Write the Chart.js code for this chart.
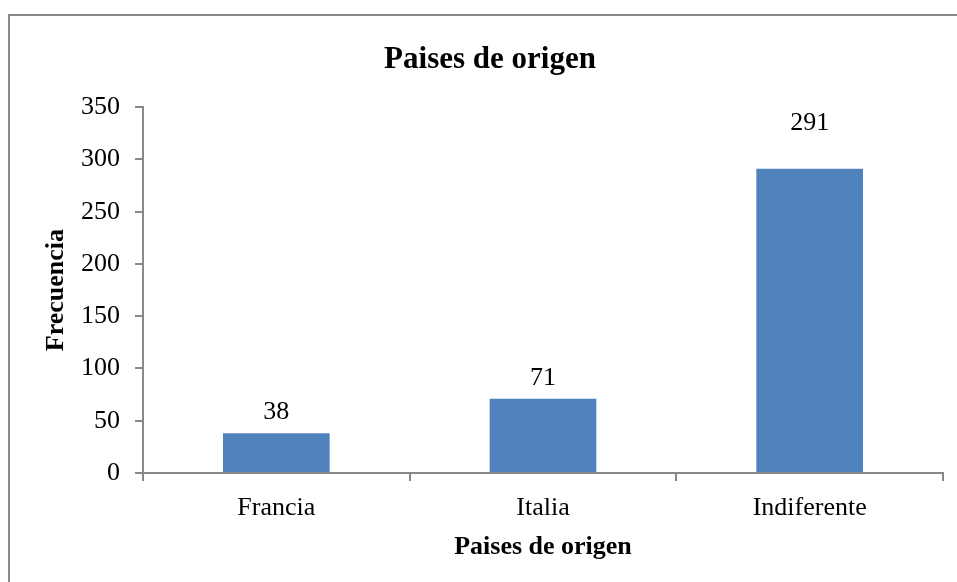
<!DOCTYPE html>
<html>
<head>
<meta charset="utf-8">
<script src="https://cdn.jsdelivr.net/npm/chart.js@4/dist/chart.umd.min.js"></script>
<style>
    body { margin: 0; background: #ffffff; }
    .marco {
        position: absolute;
        left: 8px; top: 14px; right: 0; bottom: 0;
        border-top: 2px solid #898989;
        border-left: 2px solid #898989;
    }
    #grafico { position: absolute; left: 0; top: 0; }
</style>
</head>
<body>
<div class="marco"></div>
<canvas id="grafico" width="957" height="582"></canvas>
<script>
// Datos del grafico
const paises = ["Francia", "Italia", "Indiferente"];
const frecuencias = [38, 71, 291];
const ticksY = [0, 50, 100, 150, 200, 250, 300, 350];

const fuente = "'Liberation Serif', 'Times New Roman', serif";
const gris = "#898989";

// Etiquetas encima de cada barra (la de 291 esta movida mas arriba en el original)
const separacionEtiqueta = [14, 14, 39];

const etiquetasBarras = {
    id: "etiquetasBarras",
    afterDatasetsDraw(chart) {
        const ctx = chart.ctx;
        const meta = chart.getDatasetMeta(0);
        ctx.save();
        ctx.font = "26px " + fuente;
        ctx.fillStyle = "#000000";
        ctx.textAlign = "center";
        ctx.textBaseline = "alphabetic";
        meta.data.forEach((barra, i) => {
            ctx.fillText(String(frecuencias[i]), barra.x, barra.y - separacionEtiqueta[i]);
        });
        ctx.restore();
    },
};

const canvas = document.getElementById("grafico").getContext("2d");
const chart = new Chart(canvas, {
    type: "bar",
    data: {
        labels: paises,
        datasets: [
            {
                label: "Frecuencia",
                data: frecuencias,
                backgroundColor: "#4F81BD",
                borderWidth: 0,
                barPercentage: 0.4,
                categoryPercentage: 1.0,
            },
        ],
    },
    options: {
        responsive: false,
        animation: false,
        layout: { padding: { left: 37, right: 14, top: 0, bottom: 0 } },
        plugins: {
            legend: { display: false },
            tooltip: { enabled: false },
            title: {
                display: true,
                text: "Paises de origen",
                color: "#000000",
                font: { family: fuente, size: 31, weight: "bold" },
                padding: { top: 41, bottom: 29 },
            },
        },
        scales: {
            x: {
                afterFit(scale) {
                    scale.height = 109;
                },
                grid: {
                    offset: true,
                    drawOnChartArea: false,
                    drawTicks: true,
                    tickLength: 8,
                    color: gris,
                    lineWidth: 2,
                },
                border: { display: true, color: gris, width: 2 },
                ticks: {
                    color: "#000000",
                    font: { family: fuente, size: 26 },
                    padding: 12,
                },
                title: {
                    display: true,
                    text: "Paises de origen",
                    color: "#000000",
                    font: { family: fuente, size: 26, weight: "bold" },
                    padding: { top: 8, bottom: 19 },
                },
            },
            y: {
                min: 0,
                max: 350,
                afterFit(scale) {
                    scale.width = 106;
                },
                afterBuildTicks(scale) {
                    scale.ticks = ticksY.map((v) => ({ value: v }));
                },
                grid: {
                    drawOnChartArea: false,
                    drawTicks: true,
                    tickLength: 8,
                    color: gris,
                    lineWidth: 2,
                },
                border: { display: true, color: gris, width: 2 },
                ticks: {
                    color: "#000000",
                    font: { family: fuente, size: 26 },
                    padding: 15,
                },
                title: {
                    display: true,
                    text: "Frecuencia",
                    color: "#000000",
                    font: { family: fuente, size: 26, weight: "bold" },
                    padding: { top: 4, bottom: 0 },
                },
            },
        },
    },
    plugins: [etiquetasBarras],
});
</script>
</body>
</html>
